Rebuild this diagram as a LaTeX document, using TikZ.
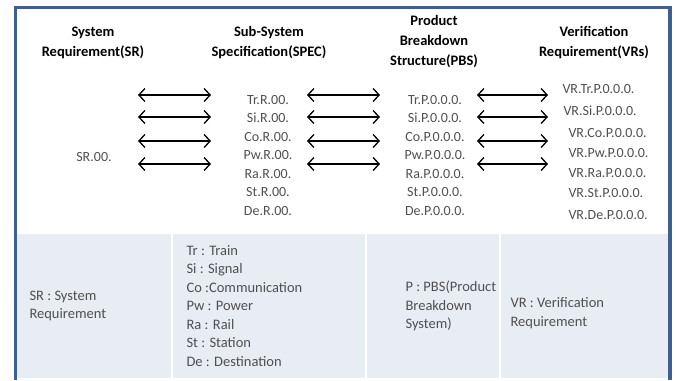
\documentclass[tikz,border=0pt]{standalone}
\usepackage{fontspec}
\setmainfont{Carlito}
\usetikzlibrary{arrows.meta}

\definecolor{frameblue}{HTML}{3E5F91}
\definecolor{panelgray}{HTML}{E8ECF3}
\definecolor{textgray}{HTML}{505050}

\tikzset{
  header/.style={align=center,font=\fontsize{14.5}{20}\selectfont\bfseries},
  codelist/.style={align=center,text=textgray,font=\fontsize{14}{18.5}\selectfont},
  vrcode/.style={anchor=west,text=textgray,font=\fontsize{14}{16}\selectfont},
  legend/.style={anchor=west,align=left,text=textgray,font=\fontsize{14.5}{18.5}\selectfont},
  linkarrow/.style={{Straight Barb[length=6pt,width=13pt]}-{Straight Barb[length=6pt,width=13pt]},line width=1.3pt}
}

\begin{document}
\begin{tikzpicture}[x=1pt,y=-1pt]
  \useasboundingbox (0,0) rectangle (676,380);

  % legend panel and frame
  \fill[panelgray] (17,234) rectangle (668,378);
  \fill[white] (171,234) rectangle (173,378);
  \fill[white] (365,234) rectangle (367,378);
  \fill[white] (499,234) rectangle (501,378);
  \fill[frameblue] (14,6) rectangle (672,9);
  \fill[frameblue] (14,6) rectangle (17,380);
  \fill[frameblue] (668,6) rectangle (672,380);

  % column titles
  \node[header] (srhead) at (93,43) {System\\Requirement(SR)};
  \node[header] (spechead) at (269,43) {Sub-System\\Specification(SPEC)};
  \node[header] (pbshead) at (434,42) {Product\\Breakdown\\Structure(PBS)};
  \node[header] (vrhead) at (594,43) {Verification\\Requirement(VRs)};

  % codes
  \node[codelist] (sr) at (94,157) {SR.00.};
  \node[codelist] (spec) at (268,155.5) {Tr.R.00.\\Si.R.00.\\Co.R.00.\\Pw.R.00.\\Ra.R.00.\\St.R.00.\\De.R.00.};
  \node[codelist] (pbs) at (435,155.5) {Tr.P.0.0.0.\\Si.P.0.0.0.\\Co.P.0.0.0.\\Pw.P.0.0.0.\\Ra.P.0.0.0.\\St.P.0.0.0.\\De.P.0.0.0.};
  \node[vrcode] (vrtr) at (559,89) {VR.Tr.P.0.0.0.};
  \node[vrcode] (vrsi) at (560,111) {VR.Si.P.0.0.0.};
  \node[vrcode] (vrco) at (565,133) {VR.Co.P.0.0.0.};
  \node[vrcode] (vrpw) at (565,153) {VR.Pw.P.0.0.0.};
  \node[vrcode] (vrra) at (565,173) {VR.Ra.P.0.0.0.};
  \node[vrcode] (vrst) at (565,193) {VR.St.P.0.0.0.};
  \node[vrcode] (vrde) at (565,215) {VR.De.P.0.0.0.};

  % links between columns
  \foreach \row/\y in {1/95,2/117,3/141,4/164}{
    \coordinate (a\row) at (138,\y);  \coordinate (b\row) at (211,\y);
    \coordinate (c\row) at (307,\y);  \coordinate (d\row) at (380,\y);
    \coordinate (e\row) at (477,\y);  \coordinate (f\row) at (548,\y);
    \draw[linkarrow] (a\row) -- (b\row);
    \draw[linkarrow] (c\row) -- (d\row);
    \draw[linkarrow] (e\row) -- (f\row);
  }

  % legend
  \node[legend] (srkey) at (26,306) {SR : System\\Requirement};
  \node[legend] (speckey) at (183,306) {Tr : Train\\Si : Signal\\Co :Communication\\Pw : Power\\Ra : Rail\\St : Station\\De : Destination};
  \node[legend] (pbskey) at (402,306) {P : PBS(Product\\Breakdown\\System)};
  \node[legend] (vrkey) at (507,313) {VR : Verification\\Requirement};
\end{tikzpicture}
\end{document}
